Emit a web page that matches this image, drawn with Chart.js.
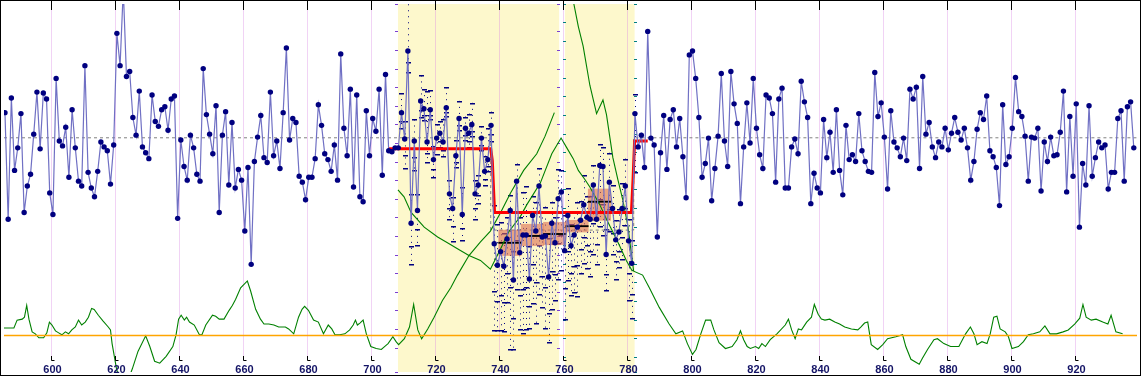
<!DOCTYPE html>
<html>
<head>
<meta charset="utf-8">
<script src="https://cdn.jsdelivr.net/npm/chart.js@4.4.1/dist/chart.umd.min.js"></script>
<style>
  html, body { margin: 0; padding: 0; background: #fff; }
</style>
</head>
<body>
<canvas id="chart" width="1141" height="376"></canvas>
<script>
// axis range and tick labels
const xMin = 585.2, xMax = 939.5;
const tickVals = [600, 620, 640, 660, 680, 700, 720, 740, 760, 780, 800, 820, 840, 860, 880, 900, 920];

// shaded bands (the white gap sits between them)
const bandStart = [708.4, 760.6];
const bandEnd = [758.8, 782.4];

// main series, one value per step starting at blueStart
const blueStart = 585.5;
const blueVals = [
  111, 220, 96, 170, 147, 112, 213, 186, 174, 133, 90, 148, 91, 97, 193, 215, 76, 140, 145, 126,
  177, 108, 147, 181, 186, 63, 172, 188, 197, 171, 141, 146, 150, 184, 144, 30, 63, -15, 74, 69,
  116, 134, 89, 146, 152, 158, 93, 120, 125, 108, 105, 129, 97, 94, 219, 139, 166, 180, 134, 147,
  174, 181, 66, 113, 133, 153, 104, 213, 134, 110, 185, 121, 188, 169, 180, 232, 167, 266, 161, 136,
  114, 157, 162, 90, 155, 140, 168, 111, 45, 139, 117, 121, 176, 182, 200, 177, 177, 158, 103, 124,
  153, 159, 171, 144, 180, 51, 127, 155, 87, 187, 93, 197, 202, 109, 155, 117, 130, 87, 175, 72,
  150, 151, 147, 147, 111, 138, 48, 224, 140, 211, 99, 107, 141, 108, 159, 137, 132, 141, 106, 194,
  209, 155, 117, 215, 127, 132, 123, 194, 185, 137, 171, 159, 124, 245, 267, 253, 268, 240, 211, 282,
  181, 254, 236, 236, 281, 216, 232, 186, 238, 237, 279, 224, 244, 199, 192, 252, 216, 247, 236, 228,
  221, 205, 218, 220, 185, 220, 165, 166, 256, 182, 209, 241, 233, 209, 186, 242, 265, 112, 146, 134,
  167, 28, 137, 144, 238, 152, 114, 169, 118, 108, 146, 117, 156, 198, 52, 48, 76, 116, 177, 163,
  137, 201, 168, 135, 71, 140, 166, 69, 102, 122, 204, 146, 101, 142, 76, 127, 154, 168, 93, 96,
  112, 182, 97, 86, 188, 188, 146, 138, 153, 79, 100, 116, 204, 173, 188, 193, 118, 157, 131, 172,
  108, 170, 195, 124, 159, 154, 161, 112, 150, 161, 171, 172, 70, 115, 101, 136, 189, 109, 141, 147,
  156, 137, 160, 87, 97, 85, 168, 74, 133, 121, 146, 157, 141, 146, 127, 149, 132, 116, 131, 139,
  127, 147, 180, 161, 128, 111, 118, 94, 150, 156, 167, 206, 103, 164, 156, 127, 75, 110, 115, 135,
  181, 136, 137, 127, 191, 141, 161, 136, 155, 154, 131, 89, 192, 115, 176, 102, 228, 163, 185, 104,
  176, 157, 141, 147, 144, 189, 172, 172, 117, 109, 181, 105, 100, 147
];

// error bars for the points inside the shaded band (first one is blueVals[errFirst])
const errFirst = 124;
const errUp = [
  20, 18, 60, 30, 22, 17, 26, 20, 52, 20, 14, 14, 12, 24, 21, 14, 12, 16, 18, 28,
  12, 20, 22, 14, 10, 12, 16, 32, 14, 40, 42, 30, 34, 22, 16, 30, 18, 36, 44, 50,
  34, 20, 30, 18, 26, 30, 40, 22, 26, 30, 22, 36, 28, 22, 24, 26, 20, 30, 22, 24,
  20, 18, 22, 20, 26, 30, 24, 20, 24, 26, 28, 22, 24, 20
];
const errDown = [
  16, 30, 21, 42, 30, 35, 16, 12, 20, 10, 18, 16, 14, 14, 8, 26, 33, 12, 12, 26,
  12, 14, 12, 26, 18, 12, 14, 12, 16, 88, 66, 80, 66, 64, 142, 71, 110, 78, 100, 96,
  50, 90, 94, 110, 72, 94, 66, 88, 58, 82, 80, 70, 66, 50, 58, 70, 54, 60, 52, 58,
  70, 46, 62, 70, 36, 50, 46, 40, 36, 52, 40, 60, 56, 60
];

// step level line
const redX = [705.3, 737.4, 737.9, 738.6, 781.4, 781.9, 782.4, 786.5];
const redY = [148, 148, 160, 213, 213, 180, 140, 140];

// dashed mean level
const meanX = [585.2, 737.4, 737.4, 782.1, 782.1, 939.5];
const meanY = [136.7, 136.7, 231, 231, 136.7, 136.7];

// box blocks with medians
const boxX = [743.4, 750.4, 757.4, 764.4, 771.4];
const boxTop = [231, 225, 223, 221, 189];
const boxBottom = [257, 247, 246, 233, 221];
const boxMed = [244, 237, 235, 227, 202];

// green statistic (null = break)
const g1X = [
  585.2, 588.3, 589.3, 590.9, 591.6, 592.3, 593.0, 594.0, 595.0, 596.1, 597.6, 598.6, 599.4, 600.2, 601.3,
  602.3, 603.3, 604.4, 605.4, 606.4, 607.5, 608.5, 609.5, 610.6, 611.6, 612.6, 613.4, 614.7, 616.2, 617.8,
  618.5, 619.0, 619.7, 620.4, 621.8, 623.1, 625.3, 627.1, 629.5, 630.8, 632.3, 633.9, 635.9, 638.0, 639.0,
  639.8, 640.6, 641.6, 642.3, 643.2, 644.7, 646.3, 647.1, 648.3, 650.4, 651.4, 652.5, 654.0, 655.6, 656.6,
  657.6, 659.2, 661.3, 662.3, 663.9, 665.4, 666.5, 668.0, 669.6, 671.1, 673.2, 674.2, 675.8, 677.3, 678.4,
  679.2, 680.4, 682.0, 683.5, 685.1, 686.6, 687.7, 688.7, 690.2, 691.8, 693.3, 694.4, 695.1, 695.7, 696.5,
  697.5, 698.5, 699.9, 701.6, 703.2, 704.2, 705.3, 706.8, 707.8, 708.6, 710.4, 712.0, 713.3, 714.6, 715.8,
  717.7, 719.7, 722.3, 724.9, 727.0, 730.6, 734.2, 737.3, 740.5, 743.6, 747.7, 751.8, 754.4, 757.3,
  758.6,
  760.0, 763.4, 764.8, 766.3, 768.4, 770.5, 772.5, 773.6, 775.6, 777.2, 778.7, 780.3, 781.3, 782.1, 784.9,
  787.0, 790.1, 793.2, 795.3, 797.4, 798.9, 800.5, 801.6, 803.1, 804.6, 806.2, 807.2, 808.8, 810.8, 812.9,
  814.4, 815.5, 816.5, 817.6, 818.6, 820.2, 821.2, 822.2, 823.3, 824.8, 826.9, 829.5, 830.5, 831.5, 832.6,
  833.6, 834.6, 836.2, 837.7, 838.6, 839.8, 840.8, 841.9, 843.4, 845.0, 846.5, 848.1, 850.2, 852.2, 853.2,
  854.3, 855.3, 856.4, 858.4, 860.0, 861.5, 864.1, 866.2, 867.2, 868.8, 871.4, 872.4, 874.0, 876.0, 877.1,
  879.1, 881.2, 883.8, 885.9, 887.4, 888.5, 889.5, 891.0, 892.6, 893.6, 894.7, 895.7, 896.7, 898.3, 899.3,
  900.4, 902.4, 904.0, 905.5, 907.1, 909.1, 910.7, 912.3, 914.3, 916.4, 918.0, 920.0, 921.6, 922.6, 923.6,
  925.2, 926.7, 928.8, 930.4, 931.4, 932.9, 935.0
];
const g1Y = [
  331, 331, 323, 322, 320, 308, 322, 335, 337, 341, 341, 336, 325, 328, 334,
  336, 338, 335, 337, 333, 330, 323, 328, 325, 320, 311, 312, 318, 324, 330,
  333, 347, 360, 373, 388, 392, 373, 355, 339, 350, 365, 367, 360, 350, 338,
  322, 318, 323, 320, 325, 328, 338, 338, 328, 318, 319, 322, 322, 313, 308,
  302, 290, 283, 293, 312, 322, 327, 327, 328, 330, 330, 332, 337, 320, 312,
  309, 313, 323, 325, 337, 328, 332, 338, 338, 337, 333, 328, 323, 328, 326,
  323, 337, 350, 352, 353, 350, 347, 340, 345, 348, 342, 330, 307, 333, 342,
  332, 320, 303, 290, 277, 257, 243, 232, 213, 193, 170, 153, 135, 111,
  null,
  -55, 0, 23, 43, 83, 112, 98, 113, 157, 180, 200, 227, 253, 273, 277,
  290, 310, 327, 337, 334, 347, 358, 353, 337, 323, 323, 333, 346, 352, 350,
  343, 334, 343, 350, 352, 350, 352, 347, 350, 343, 337, 328, 322, 333, 342,
  332, 333, 325, 320, 307, 317, 322, 323, 322, 325, 327, 330, 332, 333, 330,
  326, 325, 348, 353, 348, 342, 340, 338, 350, 363, 368, 362, 353, 343, 342,
  347, 350, 350, 337, 330, 337, 348, 345, 347, 337, 320, 319, 332, 335, 340,
  352, 350, 345, 338, 337, 335, 329, 337, 337, 335, 333, 327, 321, 307, 320,
  323, 322, 325, 327, 318, 335, 337
];
const g2X = [708.4, 710.3, 712.5, 716.6, 720.8, 724.4, 727.0, 730.6, 734.2, 737.3, 740.5, 743.0, 746.7, 748.7,
  752.9, 756.5, 759.4, 761.2, 763.2, 764.8, 766.8, 768.4, 771.5, 773.6, 775.6, 777.7, 779.8, 781.7];
const g2Y = [190, 197, 213, 228, 238, 245, 250, 257, 262, 271, 250, 233, 217, 205,
  183, 153, 137, 147, 158, 170, 179, 187, 205, 220, 233, 247, 262, 273];
const zeroLevel = 338;

const pairs = (xs, ys) => xs.map((x, i) => ({x: x, y: ys[i]}));
const blueData = blueVals.map((v, i) => ({x: blueStart + i, y: v}));

// white page, yellow bands and light grid under everything
const backdrop = {
  id: 'backdrop',
  beforeDraw(chart) {
    const {ctx, chartArea: a, scales: {x}} = chart;
    ctx.save();
    ctx.fillStyle = '#fff';
    ctx.fillRect(0, 0, chart.width, chart.height);
    ctx.fillStyle = 'rgb(253,248,204)';
    bandStart.forEach((s, i) => {
      const x1 = x.getPixelForValue(s);
      const x2 = x.getPixelForValue(bandEnd[i]);
      ctx.fillRect(x1, a.top, x2 - x1, a.bottom - a.top);
    });
    ctx.strokeStyle = 'rgba(215,130,225,0.35)';
    ctx.lineWidth = 1;
    tickVals.forEach(t => {
      const px = Math.round(x.getPixelForValue(t)) + 0.5;
      ctx.beginPath();
      ctx.moveTo(px, 10);
      ctx.lineTo(px, 357);
      ctx.stroke();
    });
    ctx.restore();
  }
};

// dotted error bars with end dashes
const errorBars = {
  id: 'errorBars',
  beforeDatasetsDraw(chart) {
    const {ctx, scales: {x, y}} = chart;
    ctx.save();
    ctx.strokeStyle = '#000080';
    ctx.fillStyle = '#000080';
    ctx.lineWidth = 1;
    errUp.forEach((up, k) => {
      const i = errFirst + k;
      const v = blueVals[i];
      const px = Math.round(x.getPixelForValue(blueStart + i)) + 0.5;
      const top = y.getPixelForValue(v - up);
      const bot = y.getPixelForValue(v + errDown[k]);
      const mid = y.getPixelForValue(v + errDown[k] * 0.55);
      ctx.setLineDash([1, 5]);
      ctx.beginPath();
      ctx.moveTo(px, top);
      ctx.lineTo(px, bot);
      ctx.stroke();
      ctx.setLineDash([]);
      [top, bot, mid].forEach(py => ctx.fillRect(px - 2.5, Math.round(py), 5, 1.5));
    });
    ctx.restore();
  }
};

// zero line, tick marks, labels and frame on top
const overlay = {
  id: 'overlay',
  afterDraw(chart) {
    const {ctx, chartArea: a, scales: {x, y}} = chart;
    ctx.save();
    const zy = Math.round(y.getPixelForValue(zeroLevel)) + 0.5;
    ctx.strokeStyle = '#ffa500';
    ctx.lineWidth = 1.3;
    ctx.beginPath();
    ctx.moveTo(a.left, zy);
    ctx.lineTo(a.right, zy);
    ctx.stroke();

    ctx.strokeStyle = '#000';
    ctx.lineWidth = 1;
    ctx.font = 'bold 11px "Liberation Sans", Arial, sans-serif';
    ctx.textAlign = 'center';
    ctx.textBaseline = 'alphabetic';
    tickVals.forEach(t => {
      const px = Math.round(x.getPixelForValue(t)) + 0.5;
      ctx.beginPath();
      ctx.moveTo(px, 0);
      ctx.lineTo(px, 10);
      ctx.moveTo(px, 356);
      ctx.lineTo(px, 360.5);
      ctx.lineTo(px + 3, 360.5);
      ctx.stroke();
      ctx.fillStyle = '#141466';
      ctx.fillText(String(t), px + 1, 373);
    });

    ctx.strokeStyle = '#000';
    ctx.strokeRect(0.5, 0.5, chart.width - 1, chart.height - 1);
    ctx.restore();
  }
};

// little tick rulers along the band edges
function ruler(at, color, min) {
  return {
    type: 'linear', axis: 'y', position: {x: at}, reverse: true,
    min: min, max: min + 376,
    border: {display: false},
    grid: {drawOnChartArea: false, drawTicks: true, tickLength: 3, color: color, lineWidth: 1},
    ticks: {display: false, stepSize: 19}
  };
}

new Chart(document.getElementById('chart'), {
  type: 'line',
  data: {
    datasets: [
      {
        data: blueData,
        borderColor: 'rgb(112,112,196)',
        borderWidth: 1.2,
        pointRadius: 2.7,
        pointBackgroundColor: '#000080',
        pointBorderColor: '#000080',
        pointBorderWidth: 0,
        tension: 0
      },
      {
        data: pairs(redX, redY),
        borderColor: '#ff0000',
        borderWidth: 3,
        pointRadius: 0,
        tension: 0
      },
      {
        data: pairs(g1X, g1Y),
        borderColor: '#008000',
        borderWidth: 1.1,
        pointRadius: 0,
        spanGaps: false,
        tension: 0
      },
      {
        data: pairs(g2X, g2Y),
        borderColor: '#008000',
        borderWidth: 1.1,
        pointRadius: 0,
        tension: 0
      },
      {
        type: 'bar',
        data: boxX.map((bx, i) => ({x: bx, y: [boxMed[i] - 0.6, boxMed[i] + 0.6]})),
        backgroundColor: '#000',
        borderWidth: 0,
        barPercentage: 1,
        categoryPercentage: 1,
        grouped: false
      },
      {
        type: 'bar',
        data: boxX.map((bx, i) => ({x: bx, y: [boxTop[i], boxBottom[i]]})),
        backgroundColor: 'rgba(220,110,80,0.6)',
        borderWidth: 0,
        barPercentage: 1,
        categoryPercentage: 1,
        grouped: false
      },
      {
        data: pairs(meanX, meanY),
        borderColor: '#808080',
        borderWidth: 1,
        borderDash: [3, 3],
        pointRadius: 0,
        tension: 0
      }
    ]
  },
  options: {
    responsive: false,
    animation: false,
    devicePixelRatio: 1,
    layout: {padding: 0},
    plugins: {legend: {display: false}, tooltip: {enabled: false}},
    scales: {
      x: {type: 'linear', min: xMin, max: xMax, display: false, offset: false},
      y: {type: 'linear', min: 0, max: 376, reverse: true, display: false},
      rp1: ruler(708.5, '#7b3fd0', -9.5),
      rp2: ruler(759.1, '#7b3fd0', -9.5),
      rt1: ruler(760.8, '#008080', 0),
      rt2: ruler(783.0, '#008080', 0)
    }
  },
  plugins: [backdrop, errorBars, overlay]
});
</script>
</body>
</html>
